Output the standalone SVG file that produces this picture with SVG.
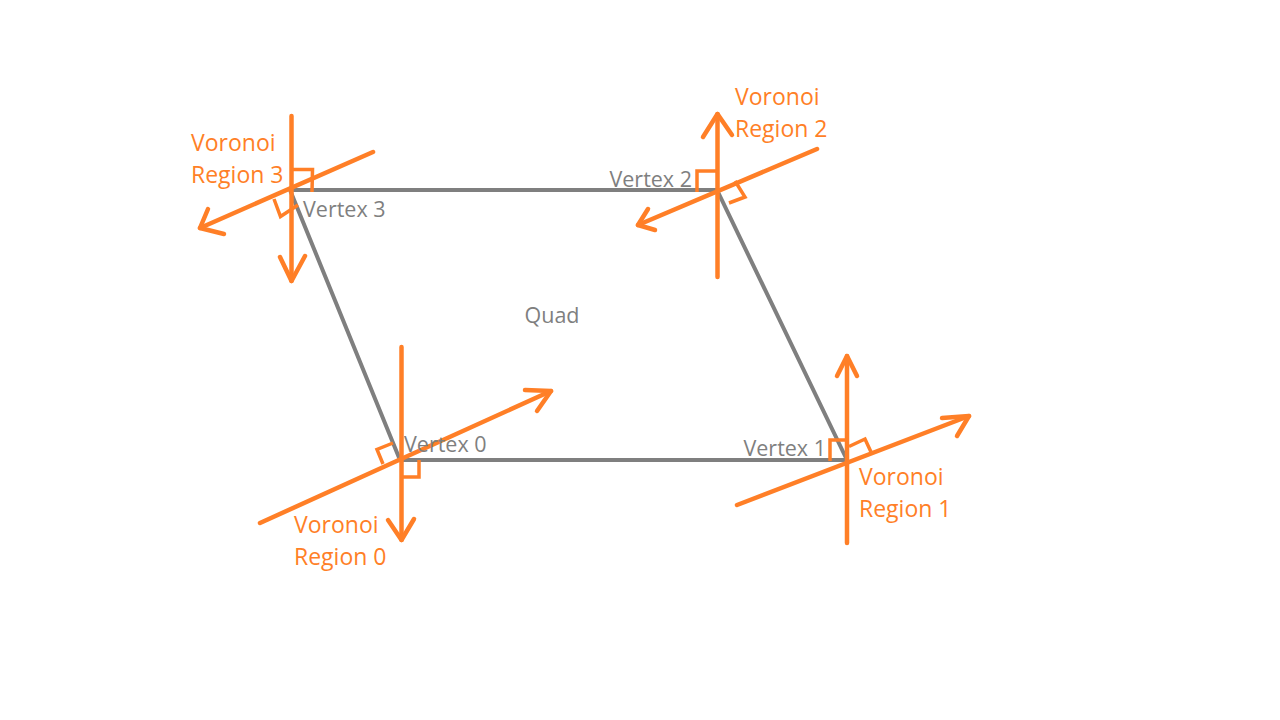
<svg xmlns="http://www.w3.org/2000/svg" width="1280" height="720" viewBox="0 0 1280 720">
<style>
.bg{fill:#ffffff}
.quad{fill:none;stroke:#7f7f7f;stroke-width:4;stroke-linejoin:miter}
.or{fill:none;stroke:#ff7f27;stroke-width:4.5;stroke-linecap:round;stroke-linejoin:round}
.sq{fill:none;stroke:#ff7f27;stroke-width:3.5;stroke-linecap:butt;stroke-linejoin:miter}
.gt{font-family:"Open Sans","Noto Sans","DejaVu Sans",sans-serif;font-size:21.5px;fill:#7f7f7f}
.ot{font-family:"Open Sans","Noto Sans","DejaVu Sans",sans-serif;font-size:23px;fill:#ff7f27}
</style>
<rect class="bg" x="0" y="0" width="1280" height="720"/>
<g id="quad">
<polygon class="quad" points="400,460 847,460 717,190 290,190"/>
<text class="gt" x="552" y="323" text-anchor="middle">Quad</text>
</g>
<g id="connectors">
<line class="or" x1="291.5" y1="116" x2="291.5" y2="281"/>
<polyline class="or" points="280,257 291.5,281 305,256"/>
<line class="or" x1="373" y1="152" x2="200" y2="228"/>
<polyline class="or" points="208,209 200,228 224,234"/>
<line class="or" x1="717.5" y1="114" x2="717.5" y2="277"/>
<polyline class="or" points="703,137 717.5,114 732,135"/>
<line class="or" x1="817" y1="149" x2="638" y2="225"/>
<polyline class="or" points="648,209 638,225 655,230"/>
<line class="or" x1="401.5" y1="347" x2="401.5" y2="540"/>
<polyline class="or" points="388,520 401.5,540 414,519"/>
<line class="or" x1="260" y1="523" x2="551" y2="391"/>
<polyline class="or" points="525,390 551,391 537,411"/>
<line class="or" x1="847" y1="356" x2="847" y2="543"/>
<polyline class="or" points="837,376 847,356 857,376"/>
<line class="or" x1="737" y1="505" x2="969" y2="416"/>
<polyline class="or" points="942,418 969,416 957,436"/>
</g>
<g id="vertex3">
<polyline class="sq" points="291.5,169.5 312.5,169.5 312,192"/>
<polyline class="sq" points="274,199 280.5,216.5 298,205"/>
<text class="gt" x="303" y="217">Vertex 3</text>
<text class="ot" x="191" y="151">Voronoi</text>
<text class="ot" x="191" y="183">Region 3</text>
</g>
<g id="vertex2">
<polyline class="sq" points="697,192 697,171 717,171"/>
<polyline class="sq" points="735,181 745,197 729,203"/>
<text class="gt" x="692" y="187" text-anchor="end">Vertex 2</text>
<text class="ot" x="735" y="105">Voronoi</text>
<text class="ot" x="735" y="137">Region 2</text>
</g>
<g id="vertex0">
<polyline class="sq" points="402,477 419,477 419,460"/>
<polyline class="sq" points="393,443 377,449.5 383,464"/>
<text class="gt" x="404" y="452">Vertex 0</text>
<text class="ot" x="294" y="533">Voronoi</text>
<text class="ot" x="294" y="565">Region 0</text>
</g>
<g id="vertex1">
<polyline class="sq" points="830,461 830,440 846,440"/>
<polyline class="sq" points="849,446.5 865,439 871,452"/>
<text class="gt" x="826" y="456" text-anchor="end">Vertex 1</text>
<text class="ot" x="859" y="485">Voronoi</text>
<text class="ot" x="859" y="517">Region 1</text>
</g>
</svg>
